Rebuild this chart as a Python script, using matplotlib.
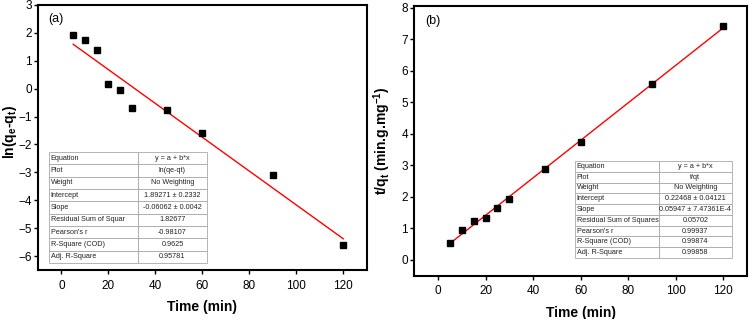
import matplotlib.pyplot as plt
import numpy as np

# pseudo-first-order data (a)
t = np.array([5, 10, 15, 20, 25, 30, 45, 60, 90, 120])
ln_qe_qt = np.array([1.93, 1.75, 1.39, 0.17, -0.06, -0.71, -0.77, -1.58, -3.11, -5.61])
# pseudo-second-order data (b)
t_qt = np.array([0.53, 0.96, 1.23, 1.34, 1.65, 1.93, 2.89, 3.74, 5.57, 7.43])

fit_a = (1.89271, -0.06062)
fit_b = (0.22468, 0.05947)

row_names_a = ["Equation", "Plot", "Weight", "Intercept", "Slope",
               "Residual Sum of Squar", "Pearson's r", "R-Square (COD)", "Adj. R-Square"]
row_vals_a = ["y = a + b*x", "ln(qe-qt)", "No Weighting", "1.89271 ± 0.2332",
              "-0.06062 ± 0.0042", "1.82677", "-0.98107", "0.9625", "0.95781"]
row_names_b = ["Equation", "Plot", "Weight", "Intercept", "Slope",
               "Residual Sum of Squares", "Pearson's r", "R-Square (COD)", "Adj. R-Square"]
row_vals_b = ["y = a + b*x", "t/qt", "No Weighting", "0.22468 ± 0.04121",
              "0.05947 ± 7.47361E-4", "0.05702", "0.99937", "0.99874", "0.99858"]

plt.rcParams['font.family'] = ['Liberation Sans', 'DejaVu Sans']
plt.rcParams['mathtext.fontset'] = 'custom'
plt.rcParams['mathtext.rm'] = 'Liberation Sans'
plt.rcParams['mathtext.bf'] = 'Liberation Sans:bold'

fig = plt.figure(figsize=(7.49, 3.19), dpi=100)
ax1 = fig.add_axes([0.0507, 0.1536, 0.439, 0.831])
ax2 = fig.add_axes([0.553, 0.1357, 0.4446, 0.8455])


def add_table(ax, names, vals, bbox, w0):
    cells = [[n, v] for n, v in zip(names, vals)]
    tb = ax.table(cellText=cells, bbox=bbox, colWidths=[w0, 1 - w0])
    tb.auto_set_font_size(False)
    tb.set_fontsize(5.2)
    for (r, c), cell in tb.get_celld().items():
        cell.set_edgecolor('#a8a8a8')
        cell.set_linewidth(0.6)
        cell.set_facecolor('white')
        cell.get_text().set_color('#222222')
        if c == 0:
            cell.get_text().set_ha('left')
            cell.PAD = 0.02
        else:
            cell.get_text().set_ha('center')
    return tb


def style(ax):
    for s in ax.spines.values():
        s.set_linewidth(1.5)
    ax.tick_params(axis='both', direction='out', length=3, width=1,
                   labelsize=8.5, top=False, right=False, colors='black')
    ax.tick_params(axis='x', pad=4)
    ax.tick_params(axis='y', pad=1.5)
    ax.set_xlim(-10, 130)
    ax.set_xticks([0, 20, 40, 60, 80, 100, 120])
    ax.set_xlabel("Time (min)", fontsize=10, fontweight='bold', labelpad=6)


# (a)
ax1.plot(t, ln_qe_qt, 's', color='black', markersize=5, zorder=3)
ax1.plot(t, fit_a[0] + fit_a[1] * t, color='red', lw=1)
style(ax1)
ax1.set_ylim(-6.5, 3)
ax1.set_yticks(np.arange(-6, 4, 1))
ax1.set_ylabel("ln(q$_\\mathbf{e}$-q$_\\mathbf{t}$)", fontsize=10, fontweight='bold')
ax1.yaxis.set_label_coords(-0.058, 0.52)
ax1.text(0.03, 0.947, "(a)", transform=ax1.transAxes, fontsize=9, va='center')
add_table(ax1, row_names_a, row_vals_a, [0.033, 0.026, 0.481, 0.419], 0.563)

# (b)
ax2.plot(t, t_qt, 's', color='black', markersize=5, zorder=3)
ax2.plot(t, fit_b[0] + fit_b[1] * t, color='red', lw=1)
style(ax2)
ax2.set_ylim(-0.5, 8.05)
ax2.set_yticks(np.arange(0, 9, 1))
ax2.set_ylabel("t/q$_\\mathbf{t}$ (min.g.mg$^\\mathbf{-1}$)", fontsize=10, fontweight='bold')
ax2.yaxis.set_label_coords(-0.064, 0.5)
ax2.text(0.034, 0.945, "(b)", transform=ax2.transAxes, fontsize=9, va='center')
add_table(ax2, row_names_b, row_vals_b, [0.483, 0.066, 0.471, 0.359], 0.535)

fig.savefig("out.png", dpi=100)
